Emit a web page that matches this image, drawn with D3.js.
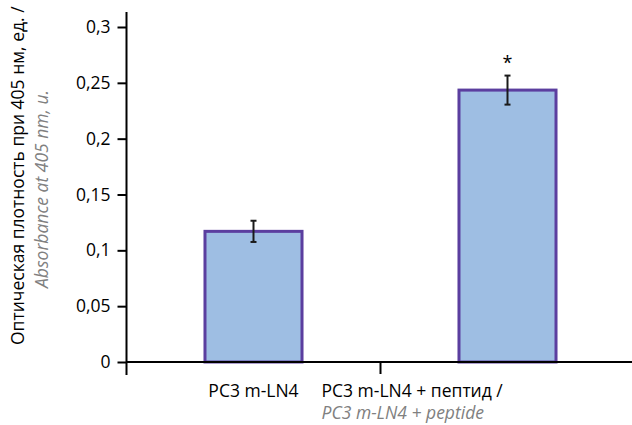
<!DOCTYPE html>
<html>
<head>
<meta charset="utf-8">
<script src="https://cdn.jsdelivr.net/npm/d3@7"></script>
<style>
  body { margin: 0; background: #fff; }
  text { font-family: "Open Sans", sans-serif; }
</style>
</head>
<body>
<div id="chart"></div>
<script>
// Chart data
const categories = ["PC3 m-LN4", "PC3 m-LN4 + пептид /"];
const subLabels = ["", "PC3 m-LN4 + peptide"];
const values = [0.117, 0.2435];
const errors = [0.0095, 0.013];
const marks = ["", "*"];
const yTicks = [0, 0.05, 0.1, 0.15, 0.2, 0.25, 0.3];

const width = 632;
const height = 425;

const fontSize = 17.5;
const barFill = "#9ebee3";
const barStroke = "#5b3e9f";
const grey = "#808080";

const ruLocale = d3.formatLocale({ decimal: ",", thousands: " ", grouping: [3], currency: ["", ""] });
const fmt = ruLocale.format("~g");

let svg = d3.select("#chart")
  .append("svg")
    .attr("width", width)
    .attr("height", height);

let xScale = d3.scaleBand()
  .domain(categories)
  .range([126.5, 634.5])
  .paddingInner(0.618)
  .paddingOuter(0.309);

let yScale = d3.scaleLinear()
  .domain([0, 0.3])
  .range([362, 27]);

// Bars
svg.selectAll("rect.bar")
  .data(values)
  .enter().append("rect")
    .attr("class", "bar")
    .attr("x", (d, i) => xScale(categories[i]))
    .attr("y", d => yScale(d))
    .attr("width", xScale.bandwidth())
    .attr("height", d => yScale(0) - yScale(d))
    .style("fill", barFill)
    .style("stroke", barStroke)
    .style("stroke-width", 3);

// Error bars
let cx = i => xScale(categories[i]) + xScale.bandwidth() / 2;
let err = svg.append("g").attr("class", "errors")
  .selectAll("g")
  .data(values)
  .enter().append("g")
    .style("stroke", "#1a1a1a")
    .style("stroke-width", 2);

err.append("line")
  .attr("x1", (d, i) => cx(i)).attr("x2", (d, i) => cx(i))
  .attr("y1", (d, i) => yScale(d + errors[i]))
  .attr("y2", (d, i) => yScale(d - errors[i]));
err.append("line")
  .attr("x1", (d, i) => cx(i) - 3).attr("x2", (d, i) => cx(i) + 3)
  .attr("y1", (d, i) => yScale(d + errors[i]))
  .attr("y2", (d, i) => yScale(d + errors[i]));
err.append("line")
  .attr("x1", (d, i) => cx(i) - 3).attr("x2", (d, i) => cx(i) + 3)
  .attr("y1", (d, i) => yScale(d - errors[i]))
  .attr("y2", (d, i) => yScale(d - errors[i]));

// Significance marks
svg.selectAll("text.mark")
  .data(values)
  .enter().append("text")
    .attr("class", "mark")
    .attr("x", (d, i) => cx(i))
    .attr("y", (d, i) => yScale(d + errors[i]) - 7)
    .style("text-anchor", "middle")
    .style("font-size", "18px")
    .text((d, i) => marks[i]);

// Y axis
let yAxis = d3.axisLeft(yScale)
  .tickValues(yTicks)
  .tickSize(9)
  .tickPadding(7)
  .tickFormat(fmt);

let yG = svg.append("g")
  .attr("class", "y axis")
  .attr("transform", "translate(126.5,0)")
  .call(yAxis);
yG.select(".domain").remove();
yG.selectAll("line").style("stroke", "#000").style("stroke-width", 2);
yG.selectAll("text")
  .style("font-family", "'Open Sans', sans-serif")
  .style("font-size", fontSize + "px")
  .style("fill", "#000");

svg.append("line")
  .attr("x1", 126.5).attr("x2", 126.5)
  .attr("y1", yScale(0.3) - 15)
  .attr("y2", yScale(0) + 13)
  .style("stroke", "#000")
  .style("stroke-width", 2);

// X axis
svg.append("line")
  .attr("x1", 126.5).attr("x2", width)
  .attr("y1", yScale(0)).attr("y2", yScale(0))
  .style("stroke", "#000")
  .style("stroke-width", 2);

let midX = (cx(0) + cx(1)) / 2;
svg.append("line")
  .attr("x1", midX).attr("x2", midX)
  .attr("y1", yScale(0)).attr("y2", yScale(0) + 12)
  .style("stroke", "#000")
  .style("stroke-width", 2);

// Category labels
svg.append("text")
  .attr("x", cx(0))
  .attr("y", 397)
  .style("text-anchor", "middle")
  .style("font-size", fontSize + "px")
  .text(categories[0]);

svg.append("text")
  .attr("x", midX - 59)
  .attr("y", 397)
  .style("font-size", fontSize + "px")
  .text(categories[1]);

svg.append("text")
  .attr("x", midX - 59)
  .attr("y", 419)
  .style("font-size", fontSize + "px")
  .style("font-style", "italic")
  .style("fill", grey)
  .text(subLabels[1]);

// Y axis title
svg.append("text")
  .attr("transform", "translate(24,345) rotate(-90)")
  .style("font-size", fontSize + "px")
  .text("Оптическая плотность при 405 нм, ед. /");

svg.append("text")
  .attr("transform", "translate(48,189) rotate(-90)")
  .style("text-anchor", "middle")
  .style("font-size", fontSize + "px")
  .style("font-style", "italic")
  .style("fill", grey)
  .text("Absorbance at 405 nm, u.");
</script>
</body>
</html>
